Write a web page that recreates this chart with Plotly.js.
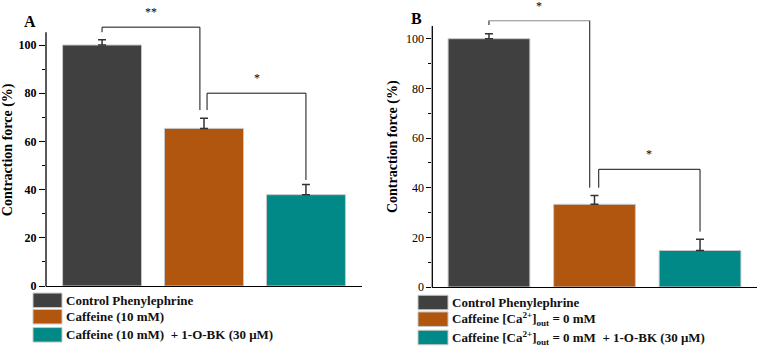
<!DOCTYPE html>
<html>
<head>
<meta charset="utf-8">
<script src="https://cdn.plot.ly/plotly-3.0.1.min.js"></script>
<style>html,body{margin:0;padding:0;background:#fff;}#chart{width:763px;height:351px;}</style>
</head>
<body>
<div id="chart"></div>
<script>
// ---------- data ----------
const categoriesA = ["Control Phenylephrine", "Caffeine (10 mM)", "Caffeine (10 mM)\u00a0\u00a0+ 1-O-BK (30 \u03bcM)"];
const valuesA = [100, 65.4, 37.9];
const errorsA = [2.2, 4.2, 4.2];

const categoriesB = ["Control Phenylephrine", "Caffeine [Ca<sup>2+</sup>]<sub>out</sub> = 0 mM", "Caffeine [Ca<sup>2+</sup>]<sub>out</sub> = 0 mM\u00a0\u00a0+ 1-O-BK (30 \u03bcM)"];
const valuesB = [100, 33.3, 14.7];
const errorsB = [2.0, 3.5, 4.5];

const barColors = ["#404040", "#B0560F", "#008987"];
const yTickVals = [0, 20, 40, 60, 80, 100];
const yMinorVals = [10, 30, 50, 70, 90];

// significance brackets: [xLeft, xRight, yLeftFoot, yTop, yRightFoot, label]
const sigA = [
  [0, 0.96, 105.3, 107.4, 73, "**"],
  [1.03, 2.0, 73, 80, 44, "*"]
];
const sigB = [
  [0, 0.955, 105.5, 107.3, 40, "*"],
  [1.04, 2.0, 40, 47.4, 22.3, "*"]
];

// ---------- helpers ----------
const W = 763, H = 351;
const px = v => v / W;
const py = v => 1 - v / H;
const FONT = "Liberation Serif, Times New Roman, serif";

const xs = [0, 1, 2];
const traces = [];
function addPanel(vals, errs, xa, ya) {
  traces.push({
    type: "bar", x: xs, y: vals, xaxis: xa, yaxis: ya,
    width: 0.775, showlegend: false,
    marker: {color: barColors, line: {color: "#c8c8c8", width: 1}},
    error_y: {type: "data", symmetric: false, array: errs, arrayminus: errs.map(() => 0),
              color: "#333333", thickness: 1.5, width: 4},
    hoverinfo: "skip"
  });
}
addPanel(valuesA, errorsA, "x", "y");
addPanel(valuesB, errorsB, "x2", "y2");

const annotations = [];
function addBrackets(sig, xa, ya, grayTop) {
  sig.forEach((s, i) => {
    const [xl, xr, yl, yt, yr, lab] = s;
    traces.push({
      type: "scatter", mode: "lines", xaxis: xa, yaxis: ya, showlegend: false,
      x: [xl, xl, xr, xr], y: [yl, yt, yt, yr],
      line: {color: "#111", width: 1}, hoverinfo: "skip"
    });
    if (grayTop && i === 0) {
      traces.push({
        type: "scatter", mode: "lines", xaxis: xa, yaxis: ya, showlegend: false,
        x: [xl, xr], y: [yt, yt],
        line: {color: "#aaaaaa", width: 1.3}, hoverinfo: "skip"
      });
    }
    annotations.push({
      xref: xa, yref: ya, x: (xl + xr) / 2, y: yt, yshift: 6,
      text: lab, showarrow: false, font: {family: FONT, size: 12, color: "#000"},
      xanchor: "center", yanchor: "bottom"
    });
  });
}
addBrackets(sigA, "x", "y", false);
addBrackets(sigB, "x2", "y2", true);

const shapes = [];
// y-axis lines (drawn to the reference's axis top, the range itself goes higher so brackets are not clipped)
shapes.push({type: "line", xref: "paper", yref: "paper", x0: px(46), x1: px(46), y0: py(286.5), y1: py(32.3),
  line: {color: "#000", width: 1.3}});
shapes.push({type: "line", xref: "paper", yref: "paper", x0: px(432.3), x1: px(432.3), y0: py(287.5), y1: py(26),
  line: {color: "#000", width: 1.3}});

// legends (drawn as shapes + text)
function addLegend(cats, sqLeft, sqRight, textX, centers, h) {
  cats.forEach((c, i) => {
    shapes.push({
      type: "rect", xref: "paper", yref: "paper",
      x0: px(sqLeft), x1: px(sqRight), y0: py(centers[i] + h / 2), y1: py(centers[i] - h / 2),
      fillcolor: barColors[i], line: {color: "#c8c8c8", width: 1}
    });
    annotations.push({
      xref: "paper", yref: "paper", x: px(textX), y: py(centers[i]),
      xanchor: "left", yanchor: "middle", showarrow: false, text: "<b>" + c + "</b>",
      font: {family: FONT, size: 13, color: "#111"}
    });
  });
}
addLegend(categoriesA, 33, 62, 64, [300.3, 316.7, 334.8], 14.5);
addLegend(categoriesB, 418, 448, 450, [302.5, 319.2, 337.5], 14.5);

// panel letters
annotations.push({xref: "paper", yref: "paper", x: px(30), y: py(21), text: "<b>A</b>",
  showarrow: false, font: {family: FONT, size: 16, color: "#000"}, xanchor: "center", yanchor: "middle"});
annotations.push({xref: "paper", yref: "paper", x: px(416), y: py(19), text: "<b>B</b>",
  showarrow: false, font: {family: FONT, size: 16, color: "#000"}, xanchor: "center", yanchor: "middle"});

// A: 0 at px 286, 2.41 px/unit ; B: 0 at px 287, 2.483 px/unit ; both ranges extended to 113
const YMAX = 113;
function yAxis(bottomPx, pxPerUnit, weight, tlen) {
  return {
    domain: [py(bottomPx), py(bottomPx - YMAX * pxPerUnit)], range: [0, YMAX],
    tickvals: yTickVals, ticks: "outside", ticklen: tlen, tickwidth: 1,
    tickcolor: "#000", showline: false, showgrid: false, zeroline: false,
    tickfont: {family: FONT, size: 12, color: "#000", weight: weight},
    minor: {tickvals: yMinorVals, ticks: "outside", ticklen: 3, tickcolor: "#000", showgrid: false},
    title: {text: "<b>Contraction force (%)</b>", font: {family: FONT, size: 14, color: "#000"}, standoff: 4},
    fixedrange: true
  };
}
function xAxis(domain, range, anchor) {
  return {
    domain: domain, range: range, anchor: anchor, showticklabels: false, ticks: "",
    showline: true, linecolor: "#000", linewidth: 1.3, showgrid: false, zeroline: false, fixedrange: true
  };
}

const layout = {
  width: W, height: H, margin: {l: 0, r: 0, t: 0, b: 0},
  paper_bgcolor: "#fff", plot_bgcolor: "#fff", showlegend: false,
  xaxis: xAxis([px(46), px(362)], [-0.55, 2.55], "y"),
  yaxis: Object.assign(yAxis(286, 2.41, "bold", 6), {anchor: "x"}),
  xaxis2: xAxis([px(432.3), px(756.7)], [-0.537, 2.537], "y2"),
  yaxis2: Object.assign(yAxis(287, 2.483, "normal", 5), {anchor: "x2"}),
  shapes: shapes, annotations: annotations
};

Plotly.newPlot("chart", traces, layout, {displayModeBar: false, staticPlot: true});
</script>
</body>
</html>
